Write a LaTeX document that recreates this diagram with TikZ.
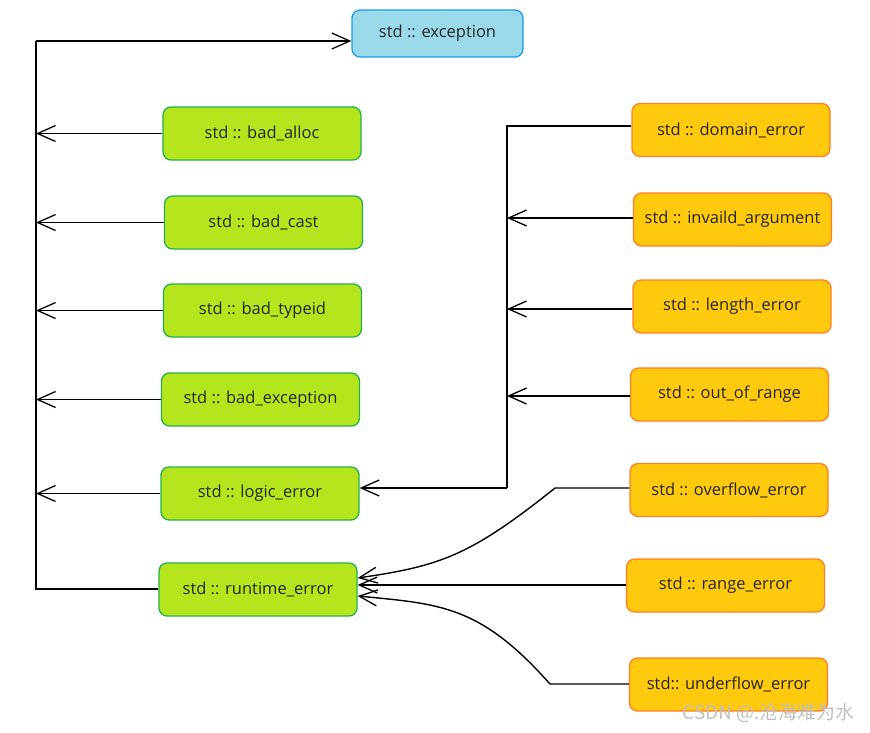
\documentclass[tikz,border=0pt]{standalone}
\usepackage{fontspec}
\setmainfont{Open Sans}
\newfontfamily\cjkfont{Noto Sans CJK SC}
\usetikzlibrary{arrows.meta}
\definecolor{bfill}{HTML}{99D9EA}
\definecolor{bdraw}{HTML}{1E9BE6}
\definecolor{gfill}{HTML}{B5E61D}
\definecolor{gdraw}{HTML}{22B14C}
\definecolor{ofill}{HTML}{FFC90E}
\definecolor{odraw}{HTML}{FF7F27}
\tikzset{
  box/.style={rectangle, rounded corners=8pt, line width=1.3pt, minimum width=198pt, minimum height=53pt, inner sep=0pt, font=\fontsize{16.5}{19}\selectfont, text=black!85},
  topbox/.style={box, fill=bfill, draw=bdraw, minimum width=171pt, minimum height=47pt},
  gbox/.style={box, fill=gfill, draw=gdraw},
  obox/.style={box, fill=ofill, draw=odraw},
  conn/.style={line width=1.4pt, draw=black},
  arr/.style={conn, -{Straight Barb[length=18pt,width=16pt,line width=1.3pt]}},
}
\begin{document}
\begin{tikzpicture}[x=1pt,y=-1pt]
\useasboundingbox (0,0) rectangle (870,732);
\node[topbox] (exc) at (437.5,33.5) {std :: exception};
\node[gbox] (alloc) at (262,133.5) {std :: bad\_alloc};
\node[gbox] (cast) at (263.5,222.5) {std :: bad\_cast};
\node[gbox] (typeid) at (262.5,310.5) {std :: bad\_typeid};
\node[gbox] (bexc) at (260.5,399.5) {std :: bad\_exception};
\node[gbox] (logic) at (260,493.5) {std :: logic\_error};
\node[gbox] (runtime) at (258,589.5) {std :: runtime\_error};
\node[obox] (domain) at (731,130) {std :: domain\_error};
\node[obox] (inv) at (732.5,219.5) {std :: invaild\_argument};
\node[obox] (length) at (732,306.5) {std :: length\_error};
\node[obox] (range1) at (729.5,394.5) {std :: out\_of\_range};
\node[obox] (over) at (729,490) {std :: overflow\_error};
\node[obox] (range) at (725.5,585.5) {std :: range\_error};
\node[obox] (under) at (728.5,684.5) {std:: underflow\_error};
% left spine
\coordinate (lt) at (36,41);
\coordinate (lb) at (36,589);
\draw[conn] (runtime.west |- lb) -- (lb) -- (lt);
\draw[arr] (lt) -- (exc.west |- lt);
\draw[arr] (alloc.west) -- (alloc.west -| lt);
\draw[arr] (cast.west) -- (cast.west -| lt);
\draw[arr] (typeid.west) -- (typeid.west -| lt);
\draw[arr] (bexc.west) -- (bexc.west -| lt);
\draw[arr] (logic.west) -- (logic.west -| lt);
% right spine
\coordinate (rt) at (507,126);
\coordinate (rb) at (507,488);
\draw[conn] (domain.west |- rt) -- (rt) -- (rb);
\draw[arr] (rb) -- (logic.east |- rb);
\draw[arr] (inv.west |- 0,218) -- (rt |- 0,218);
\draw[arr] (length.west |- 0,309) -- (rt |- 0,309);
\draw[arr] (range1.west |- 0,396) -- (rt |- 0,396);
% curves to runtime_error
\coordinate (ov) at (555,488);
\coordinate (un) at (550,684);
\draw[arr] (over.west |- ov) -- (ov) .. controls (470,556) and (440,566) .. (runtime.east |- 0,578);
\draw[arr] (range.west |- 0,585) -- (runtime.east |- 0,585);
\draw[arr] (under.west |- un) -- (un) .. controls (480,605) and (440,604) .. (runtime.east |- 0,596);
% watermark
\node[anchor=east, text=black!25, font=\cjkfont\fontsize{19}{22}\selectfont, inner sep=0pt] (wm) at (855,713) {CSDN @.沧海难为水};
\end{tikzpicture}
\end{document}
